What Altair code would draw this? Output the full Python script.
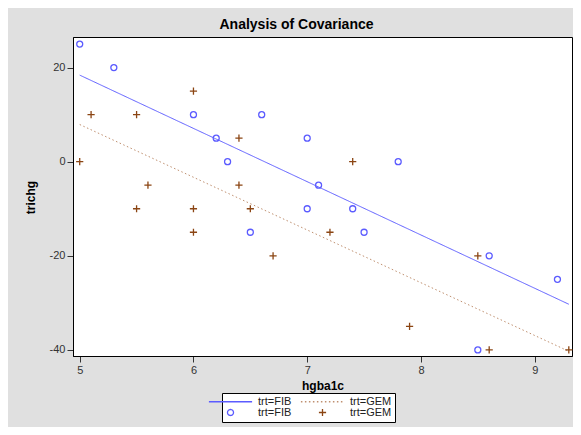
import altair as alt
import pandas as pd

# FIB group (circles)
fib_x = [5.0, 5.3, 6.0, 6.2, 6.3, 6.5, 6.6, 7.0, 7.0, 7.1, 7.4, 7.5, 7.8, 8.5, 8.6, 9.2]
fib_y = [25, 20, 10, 5, 0, -15, 10, 5, -10, -5, -10, -15, 0, -40, -20, -25]

# GEM group (plus signs)
gem_x = [5.0, 5.1, 5.5, 5.5, 5.6, 6.0, 6.0, 6.0, 6.4, 6.4, 6.5, 6.7, 7.2, 7.4, 7.9, 8.5, 8.6, 9.3]
gem_y = [0, 10, 10, -10, -5, 15, -10, -15, 5, -5, -10, -20, -15, 0, -35, -20, -40, -40]

# fitted lines, read at the ends of the x range
fit_x = [5.0, 9.3]
fib_fit = [18.4, -30.3]
gem_fit = [7.9, -40.3]

keys = ['lineFIB', 'lineGEM', 'ptFIB', 'ptGEM']

pts = pd.concat([
    pd.DataFrame({'hgba1c': fib_x, 'trichg': fib_y, 'key': 'ptFIB'}),
    pd.DataFrame({'hgba1c': gem_x, 'trichg': gem_y, 'key': 'ptGEM'}),
])
lines = pd.concat([
    pd.DataFrame({'hgba1c': fit_x, 'trichg': fib_fit, 'key': 'lineFIB'}),
    pd.DataFrame({'hgba1c': fit_x, 'trichg': gem_fit, 'key': 'lineGEM'}),
])

blue = '#5b5bff'
brown = '#8b4513'
color_scale = alt.Scale(domain=keys, range=[blue, '#bf9070', blue, brown])
shape_scale = alt.Scale(domain=keys, range=['M-7.2,0H7.2', 'M-7.2,0H7.2', 'circle',
                                            'M-1.2,0H1.2M0,-1.2V1.2'])
dash_scale = alt.Scale(domain=keys, range=[[1, 0], [1.5, 2.5], [1, 0], [1, 0]])

label_expr = "datum.value == 'lineFIB' || datum.value == 'ptFIB' ? 'trt=FIB' : 'trt=GEM'"
legend = alt.Legend(title=None, orient='none', legendX=149, legendY=356, columns=2,
                    direction='horizontal', labelExpr=label_expr, symbolSize=36,
                    labelOffset=22, columnPadding=6, rowPadding=-1, padding=3,
                    strokeColor='black', fillColor='white', labelFont='Liberation Sans',
                    labelFontSize=11, labelColor='#222222', symbolStrokeWidth=1.3,
                    symbolFillColor='transparent')

minus_expr = "datum.value < 0 ? '-' + abs(datum.value) : '' + datum.value"

x = alt.X('hgba1c:Q', scale=alt.Scale(domain=[4.941, 9.328], nice=False, zero=False),
          axis=alt.Axis(values=[5, 6, 7, 8, 9], grid=False, title='hgba1c', titleY=29,
                        titleBaseline='middle'))
y = alt.Y('trichg:Q', scale=alt.Scale(domain=[-41.3, 26.5], nice=False, zero=False),
          axis=alt.Axis(values=[-40, -20, 0, 20], grid=False, title='trichg', titleX=-43,
                        titleY=160, titleBaseline='middle', titleAlign='center',
                        labelExpr=minus_expr))

line_layer = alt.Chart(lines).mark_line(strokeWidth=1).encode(
    x=x, y=y,
    color=alt.Color('key:N', scale=color_scale, legend=legend),
    strokeDash=alt.StrokeDash('key:N', scale=dash_scale, legend=legend),
    detail='key:N',
)

point_layer = alt.Chart(pts).mark_point(size=36, filled=False, strokeWidth=1.3, opacity=1).encode(
    x=x, y=y,
    color=alt.Color('key:N', scale=color_scale, legend=legend),
    shape=alt.Shape('key:N', scale=shape_scale, legend=legend),
)

chart = alt.layer(line_layer, point_layer).properties(
    width=499, height=319,
    autosize=alt.AutoSizeParams(type='none'),
    padding={'left': 65, 'top': 29, 'right': 1, 'bottom': 71},
    title=alt.TitleParams('Analysis of Covariance', font='Liberation Sans', fontSize=14,
                          fontWeight='bold', color='black', dx=-26, offset=5),
    background='#e0e0e0',
).configure_view(
    fill='white', stroke='black', strokeWidth=1,
).configure_axis(
    labelFont='Liberation Sans', labelFontSize=11, labelColor='#333333',
    titleFont='Liberation Sans', titleFontSize=12, titleFontWeight='bold', titleColor='black',
    tickColor='#333333', tickSize=6, domainColor='black', labelPadding=2,
)

chart.save("out.html", embed_options={"renderer": "svg", "actions": False})
